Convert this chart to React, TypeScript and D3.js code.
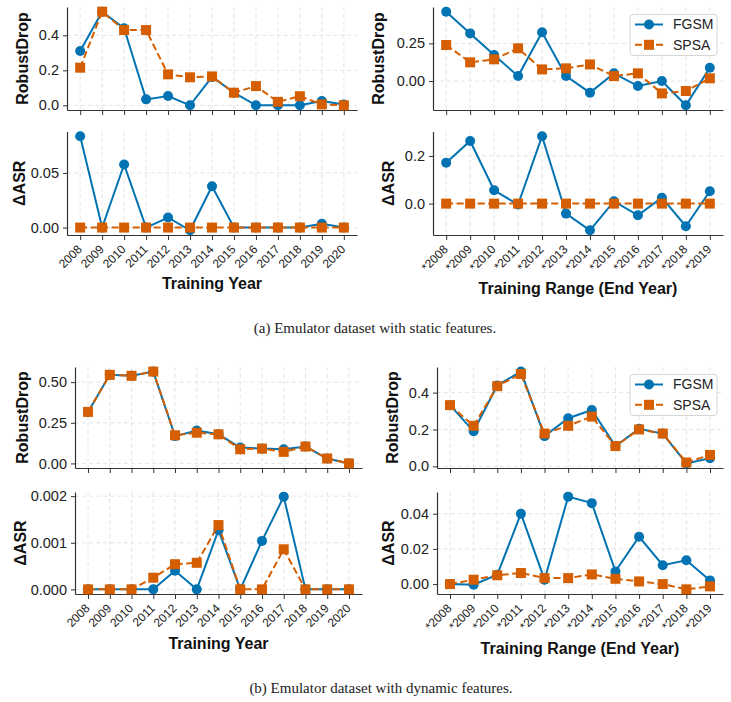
import React, {useRef, useEffect} from 'react';
import * as d3 from 'd3';

// x categories
const YEARS = ['2008', '2009', '2010', '2011', '2012', '2013', '2014', '2015', '2016', '2017', '2018', '2019', '2020'];
const RANGE_ENDS = ['*2008', '*2009', '*2010', '*2011', '*2012', '*2013', '*2014', '*2015', '*2016', '*2017', '*2018', '*2019'];

// (a) static features
const staticYearDropFgsm = [0.31, 0.535, 0.44, 0.034, 0.053, 0.0, 0.162, 0.072, 0.0, 0.0, 0.0, 0.025, 0.005];
const staticYearDropSpsa = [0.215, 0.535, 0.43, 0.43, 0.177, 0.16, 0.165, 0.072, 0.11, 0.02, 0.052, 0.005, 0.0];
const staticYearAsrFgsm = [0.0836, 0.0, 0.0577, 0.0, 0.0092, -0.0025, 0.0378, 0.0, 0.0, 0.0, 0.0, 0.0035, 0.0];
const staticYearAsrSpsa = [0, 0, 0, 0, 0, 0, 0, 0, 0, 0, 0, 0, 0];
const staticRangeDropFgsm = [0.46, 0.316, 0.172, 0.033, 0.323, 0.033, -0.077, 0.051, -0.033, 0.0, -0.161, 0.088];
const staticRangeDropSpsa = [0.239, 0.124, 0.144, 0.217, 0.077, 0.084, 0.11, 0.033, 0.051, -0.082, -0.066, 0.018];
const staticRangeAsrFgsm = [0.172, 0.263, 0.056, -0.004, 0.283, -0.042, -0.112, 0.01, -0.049, 0.025, -0.095, 0.052];
const staticRangeAsrSpsa = [0, 0, 0, 0, 0, 0, 0, 0, 0, 0, 0, 0];

// (b) dynamic features
const dynYearDropFgsm = [0.317, 0.545, 0.539, 0.565, 0.168, 0.203, 0.179, 0.098, 0.091, 0.087, 0.104, 0.03, 0.0];
const dynYearDropSpsa = [0.317, 0.545, 0.539, 0.565, 0.173, 0.189, 0.179, 0.087, 0.091, 0.071, 0.104, 0.03, 0.0];
const dynYearAsrFgsm = [0, 0, 0, 0, 0.0004, 0, 0.00127, 0, 0.00104, 0.00199, 0, 0, 0];
const dynYearAsrSpsa = [0, 0, 0, 0.00025, 0.00054, 0.00057, 0.00138, 0, 0, 0.00086, 0, 0, 0];
const dynRangeDropFgsm = [0.332, 0.19, 0.439, 0.514, 0.164, 0.261, 0.306, 0.11, 0.204, 0.178, 0.016, 0.044];
const dynRangeDropSpsa = [0.332, 0.22, 0.435, 0.501, 0.178, 0.22, 0.27, 0.11, 0.2, 0.178, 0.021, 0.062];
const dynRangeAsrFgsm = [0.0, -0.0004, 0.0053, 0.04, 0.0025, 0.0497, 0.046, 0.0072, 0.0269, 0.0107, 0.0135, 0.0021];
const dynRangeAsrSpsa = [0.0, 0.0025, 0.005, 0.0063, 0.0034, 0.0034, 0.0055, 0.003, 0.0015, 0.0, -0.003, -0.0013];

// y tick values
const TICKS_A_DROP_YEAR = [0, 0.2, 0.4];
const TICKS_A_ASR_YEAR = [0, 0.05];
const TICKS_A_DROP_RANGE = [0, 0.25];
const TICKS_A_ASR_RANGE = [0, 0.2];
const TICKS_B_DROP_YEAR = [0, 0.25, 0.5];
const TICKS_B_ASR_YEAR = [0, 0.001, 0.002];
const TICKS_B_DROP_RANGE = [0, 0.2, 0.4];
const TICKS_B_ASR_RANGE = [0, 0.02, 0.04];

const SERIES_NAMES = ['FGSM', 'SPSA'];
const CAPTIONS = ['(a) Emulator dataset with static features.', '(b) Emulator dataset with dynamic features.'];

const BLUE = '#0173b2';
const ORANGE = '#d55e00';
const FONT = '"Liberation Sans", Arial, sans-serif';
const W = 731;
const H = 702;

interface PanelSpec {
    x0: number; x1: number; y0: number; y1: number;
    cats: string[];
    fgsm: number[];
    spsa: number[];
    ticks: number[];
    fmt: string;
    ylabel: string;
    ylabelX: number;
    xlabel?: string;
    xlabelY?: number;
    legend?: boolean;
}

const PANELS: PanelSpec[] = [
    {x0: 67, x1: 357, y0: 7, y1: 110, cats: YEARS, fgsm: staticYearDropFgsm, spsa: staticYearDropSpsa,
        ticks: TICKS_A_DROP_YEAR, fmt: '.1f', ylabel: 'RobustDrop', ylabelX: 22},
    {x0: 67, x1: 357, y0: 131.5, y1: 235, cats: YEARS, fgsm: staticYearAsrFgsm, spsa: staticYearAsrSpsa,
        ticks: TICKS_A_ASR_YEAR, fmt: '.2f', ylabel: 'ΔASR', ylabelX: 19, xlabel: 'Training Year', xlabelY: 283},
    {x0: 433, x1: 723, y0: 7, y1: 110, cats: RANGE_ENDS, fgsm: staticRangeDropFgsm, spsa: staticRangeDropSpsa,
        ticks: TICKS_A_DROP_RANGE, fmt: '.2f', ylabel: 'RobustDrop', ylabelX: 378, legend: true},
    {x0: 433, x1: 723, y0: 131.5, y1: 235, cats: RANGE_ENDS, fgsm: staticRangeAsrFgsm, spsa: staticRangeAsrSpsa,
        ticks: TICKS_A_ASR_RANGE, fmt: '.1f', ylabel: 'ΔASR', ylabelX: 388, xlabel: 'Training Range (End Year)', xlabelY: 288},
    {x0: 75, x1: 362, y0: 367, y1: 468, cats: YEARS, fgsm: dynYearDropFgsm, spsa: dynYearDropSpsa,
        ticks: TICKS_B_DROP_YEAR, fmt: '.2f', ylabel: 'RobustDrop', ylabelX: 22},
    {x0: 75, x1: 362, y0: 492, y1: 594, cats: YEARS, fgsm: dynYearAsrFgsm, spsa: dynYearAsrSpsa,
        ticks: TICKS_B_ASR_YEAR, fmt: '.3f', ylabel: 'ΔASR', ylabelX: 20, xlabel: 'Training Year', xlabelY: 643},
    {x0: 437, x1: 723, y0: 367, y1: 468, cats: RANGE_ENDS, fgsm: dynRangeDropFgsm, spsa: dynRangeDropSpsa,
        ticks: TICKS_B_DROP_RANGE, fmt: '.1f', ylabel: 'RobustDrop', ylabelX: 392, legend: true},
    {x0: 437, x1: 723, y0: 492, y1: 594, cats: RANGE_ENDS, fgsm: dynRangeAsrFgsm, spsa: dynRangeAsrSpsa,
        ticks: TICKS_B_ASR_RANGE, fmt: '.2f', ylabel: 'ΔASR', ylabelX: 388, xlabel: 'Training Range (End Year)', xlabelY: 648},
];

type Sel = d3.Selection<SVGGElement, unknown, null, undefined>;

function drawMarker(g: Sel, kind: number, cx: number, cy: number, color: string) {
    if (kind === 0) {
        g.append('circle').attr('cx', cx).attr('cy', cy).attr('r', 5).attr('fill', color);
    } else {
        g.append('rect').attr('x', cx - 5).attr('y', cy - 5).attr('width', 10).attr('height', 10).attr('fill', color);
    }
}

function drawPanel(root: Sel, p: PanelSpec) {
    const g = root.append('g');
    // matplotlib-style 5% margins on both axes
    const pad = p.cats.length === 13 ? 0.6 : 0.55;
    const x = d3.scalePoint<string>().domain(p.cats).range([p.x0, p.x1]).padding(pad);
    const [lo, hi] = d3.extent([...p.fgsm, ...p.spsa]) as [number, number];
    const m = (hi - lo) * 0.05;
    const y = d3.scaleLinear().domain([lo - m, hi + m]).range([p.y1, p.y0]);

    // grid
    g.append('g').selectAll('line').data(p.cats).join('line')
        .attr('x1', d => x(d)!).attr('x2', d => x(d)!)
        .attr('y1', p.y0).attr('y2', p.y1)
        .attr('stroke', '#e2e2e2').attr('stroke-width', 0.9).attr('stroke-dasharray', '4,3');
    g.append('g').selectAll('line').data(p.ticks).join('line')
        .attr('x1', p.x0).attr('x2', p.x1)
        .attr('y1', d => y(d)).attr('y2', d => y(d))
        .attr('stroke', '#e2e2e2').attr('stroke-width', 0.9).attr('stroke-dasharray', '4,3');

    // axes
    const ya = g.append('g').attr('transform', `translate(${p.x0},0)`)
        .call(d3.axisLeft(y).tickValues(p.ticks).tickFormat(d3.format(p.fmt) as any).tickSize(4).tickSizeOuter(0).tickPadding(4));
    ya.selectAll('text').style('font-family', FONT).style('font-size', '14.5px').attr('fill', '#222');

    const xa = g.append('g').attr('transform', `translate(0,${p.y1})`)
        .call(d3.axisBottom(x).tickSize(5).tickSizeOuter(0).tickFormat(p.xlabel ? (d => d) : () => ''));
    xa.selectAll('text')
        .style('font-family', FONT).style('font-size', '12px').attr('fill', '#222')
        .attr('y', 0).attr('dy', '0.35em')
        .attr('text-anchor', 'end')
        .attr('transform', 'translate(-1,12) rotate(-45)');

    [ya, xa].forEach(a => {
        a.select('.domain').attr('stroke', '#333').attr('stroke-width', 1.2);
        a.selectAll('.tick line').attr('stroke', '#333').attr('stroke-width', 1);
    });

    // series: FGSM under SPSA
    [p.fgsm, p.spsa].forEach((vals, k) => {
        const color = k === 0 ? BLUE : ORANGE;
        const line = d3.line<number>().x((_, i) => x(p.cats[i])!).y(d => y(d));
        g.append('path').datum(vals).attr('d', line)
            .attr('fill', 'none').attr('stroke', color).attr('stroke-width', 2)
            .attr('stroke-dasharray', k === 0 ? null : '7,3.5');
        const mg = g.append('g');
        vals.forEach((v, i) => drawMarker(mg, k, x(p.cats[i])!, y(v), color));
    });

    // y label
    g.append('text')
        .attr('transform', `translate(${p.ylabelX},${(p.y0 + p.y1) / 2}) rotate(-90)`)
        .attr('text-anchor', 'middle').attr('dy', '0.35em')
        .style('font-family', FONT).style('font-size', '16px').style('font-weight', 'bold')
        .attr('fill', '#111').text(p.ylabel);

    // x label
    if (p.xlabel) {
        g.append('text')
            .attr('x', (p.x0 + p.x1) / 2).attr('y', p.xlabelY!).attr('dy', '0.35em')
            .attr('text-anchor', 'middle')
            .style('font-family', FONT).style('font-size', '16px').style('font-weight', 'bold')
            .attr('fill', '#111').text(p.xlabel);
    }

    // legend
    if (p.legend) {
        const lx = 630;
        const ly = p.y0 + 7.5;
        const lg = g.append('g');
        lg.append('rect').attr('x', lx).attr('y', ly).attr('width', 87).attr('height', 41).attr('rx', 3)
            .attr('fill', 'white').attr('fill-opacity', 0.85).attr('stroke', '#d6d6d6').attr('stroke-width', 1);
        SERIES_NAMES.forEach((name, k) => {
            const cy = ly + 10 + k * 20.3;
            const color = k === 0 ? BLUE : ORANGE;
            lg.append('line').attr('x1', lx + 5).attr('x2', lx + 33).attr('y1', cy).attr('y2', cy)
                .attr('stroke', color).attr('stroke-width', 2)
                .attr('stroke-dasharray', k === 0 ? null : '7,3.5');
            drawMarker(lg, k, lx + 19, cy, color);
            lg.append('text').attr('x', lx + 43).attr('y', cy).attr('dy', '0.35em')
                .style('font-family', FONT).style('font-size', '14px').attr('fill', '#222').text(name);
        });
    }
}

const App: React.FC = () => {
    const svgRef = useRef<SVGSVGElement>(null);

    useEffect(() => {
        if (!svgRef.current) return;
        const svg = d3.select(svgRef.current);
        svg.selectAll('*').remove();
        const root = svg.append('g') as unknown as Sel;

        PANELS.forEach(p => drawPanel(root, p));

        // captions
        [[375, 327.5], [381, 688]].forEach(([cx, cy], i) => {
            root.append('text')
                .attr('x', cx).attr('y', cy).attr('dy', '0.35em').attr('text-anchor', 'middle')
                .style('font-family', '"Liberation Serif", "DejaVu Serif", serif').style('font-size', '15px')
                .attr('fill', '#222').text(CAPTIONS[i]);
        });
    }, []);

    return (
        <svg
            ref={svgRef}
            width={W}
            height={H}
            viewBox={`0 0 ${W} ${H}`}
            style={{position: 'absolute', left: 0, top: 0, background: 'white'}}
        />
    );
};

export default App;
